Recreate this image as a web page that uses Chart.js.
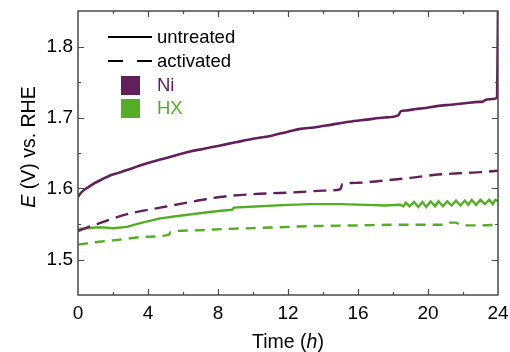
<!DOCTYPE html>
<html>
<head>
<meta charset="utf-8">
<script src="https://cdn.jsdelivr.net/npm/chart.js@4"></script>
<style>
html,body{margin:0;padding:0;background:#fff;}
#wrap{width:510px;height:352px;position:relative;}
</style>
</head>
<body>
<div id="wrap"><canvas id="c" width="510" height="352"></canvas></div>
<script>
// ---- data ----
const xTicks = [0, 4, 8, 12, 16, 20, 24];
const yTicks = [1.5, 1.6, 1.7, 1.8];

const niUntreatedT = [0, 0.1, 0.3, 0.6, 0.9, 1.3, 1.8, 2.3, 2.8, 3.5, 4.0, 4.7, 5.5, 6.4, 7.2, 8.0, 9.0, 10.0, 11.0, 12.0, 12.7, 13.5, 14.5, 15.5, 16.5, 17.5, 18.3, 18.45, 18.8, 19.3, 19.7, 20.5, 21.3, 22.1, 22.9, 23.1, 23.3, 23.7, 23.95, 24.0];
const niUntreatedE = [1.588, 1.592, 1.597, 1.602, 1.607, 1.612, 1.618, 1.622, 1.626, 1.632, 1.636, 1.641, 1.646, 1.652, 1.656, 1.660, 1.665, 1.670, 1.674, 1.680, 1.684, 1.686, 1.690, 1.694, 1.697, 1.700, 1.703, 1.709, 1.710, 1.712, 1.713, 1.716, 1.718, 1.720, 1.722, 1.722, 1.725, 1.726, 1.728, 1.86];

const niActivatedT = [0, 0.5, 1.0, 1.8, 3.0, 4.7, 6.0, 8.1, 10.0, 12.7, 14.0, 15.0, 15.1, 16.0, 17.4, 19.0, 20.3, 22.2, 23.0, 24.0];
const niActivatedE = [1.540, 1.545, 1.549, 1.556, 1.565, 1.573, 1.579, 1.588, 1.592, 1.595, 1.597, 1.599, 1.606, 1.608, 1.611, 1.615, 1.619, 1.622, 1.623, 1.625];

const hxUntreatedT = [0, 0.5, 1.0, 1.5, 2.0, 2.8, 3.5, 4.7, 5.6, 6.6, 7.9, 8.8, 8.9, 10.4, 12.0, 13.3, 15.0, 16.5, 17.5, 18.4,
  18.6, 18.73, 18.95, 19.2, 19.45, 19.68, 19.9, 20.15, 20.4, 20.6, 20.85, 21.1, 21.35, 21.6, 21.85, 22.1, 22.3, 22.5, 22.75, 23.0, 23.25, 23.5, 23.7, 23.85, 24.0];
const hxUntreatedE = [1.543, 1.544, 1.545, 1.545, 1.544, 1.546, 1.551, 1.558, 1.561, 1.564, 1.568, 1.570, 1.573, 1.575, 1.577, 1.578, 1.578, 1.577, 1.576, 1.577,
  1.575, 1.580, 1.575, 1.581, 1.574, 1.581, 1.574, 1.582, 1.575, 1.582, 1.575, 1.582, 1.576, 1.583, 1.576, 1.583, 1.577, 1.584, 1.577, 1.584, 1.578, 1.584, 1.578, 1.584, 1.582];

const hxActivatedT = [0, 1.2, 2.4, 3.8, 5.2, 5.3, 6.5, 8.5, 11.0, 13.3, 16.0, 18.4, 21.0, 21.3, 21.6, 21.9, 23.0, 24.0];
const hxActivatedE = [1.521, 1.525, 1.528, 1.532, 1.535, 1.539, 1.541, 1.543, 1.545, 1.547, 1.548, 1.549, 1.549, 1.552, 1.552, 1.548, 1.548, 1.549];

const seriesNames = ['Ni untreated', 'Ni activated', 'HX untreated', 'HX activated'];
const legendLines = ['untreated', 'activated'];
const legendMaterials = ['Ni', 'HX'];

const PURPLE = '#62205b';
const GREEN = '#54ae25';
const AXIS = '#4a4a4a';
const FONT = '"Liberation Sans", Arial, sans-serif';

function pts(t, e) { return t.map((x, i) => ({ x: x, y: e[i] })); }

const decorPlugin = {
  id: 'decor',
  afterDraw(chart) {
    const ctx = chart.ctx;
    const a = chart.chartArea;
    const xs = chart.scales.x, ys = chart.scales.y;
    ctx.save();
    // frame
    ctx.strokeStyle = AXIS;
    ctx.lineWidth = 1.5;
    ctx.strokeRect(a.left, a.top, a.right - a.left, a.bottom - a.top);
    // x ticks (inward, bottom & top)
    ctx.lineWidth = 1.2;
    for (let v = 2; v < 24; v += 2) {
      const px = Math.round(xs.getPixelForValue(v)) + 0.5;
      const len = (v % 4 === 0) ? 6 : 3;
      ctx.beginPath();
      ctx.moveTo(px, a.bottom); ctx.lineTo(px, a.bottom - len);
      ctx.moveTo(px, a.top); ctx.lineTo(px, a.top + len);
      ctx.stroke();
    }
    for (let k = 1; k < 8; k++) {
      const v = 1.45 + k * 0.05;
      const py = Math.round(ys.getPixelForValue(v)) + 0.5;
      const len = (k % 2 === 1) ? 6 : 3;
      ctx.beginPath();
      ctx.moveTo(a.left, py); ctx.lineTo(a.left + len, py);
      ctx.moveTo(a.right, py); ctx.lineTo(a.right - len, py);
      ctx.stroke();
    }
    // x title
    ctx.fillStyle = '#000';
    ctx.textBaseline = 'alphabetic';
    const fN = '19.5px ' + FONT, fI = 'italic 19.5px ' + FONT;
    const parts = [['Time (', fN], ['h', fI], [')', fN]];
    let w = 0;
    parts.forEach(p => { ctx.font = p[1]; w += ctx.measureText(p[0]).width; });
    let x = (a.left + a.right) / 2 - w / 2;
    parts.forEach(p => { ctx.font = p[1]; ctx.fillText(p[0], x, 348); x += ctx.measureText(p[0]).width; });
    // y title
    const yparts = [['E', fI], [' (V) vs. RHE', fN]];
    w = 0;
    yparts.forEach(p => { ctx.font = p[1]; w += ctx.measureText(p[0]).width; });
    ctx.save();
    ctx.translate(35, 147);
    ctx.rotate(-Math.PI / 2);
    x = -w / 2;
    yparts.forEach(p => { ctx.font = p[1]; ctx.fillText(p[0], x, 0); x += ctx.measureText(p[0]).width; });
    ctx.restore();
    // legend
    ctx.font = '18.5px ' + FONT;
    ctx.textBaseline = 'middle';
    ctx.strokeStyle = '#000';
    ctx.lineWidth = 2.2;
    ctx.beginPath(); ctx.moveTo(108, 37); ctx.lineTo(152, 37); ctx.stroke();
    ctx.setLineDash([15, 14]);
    ctx.beginPath(); ctx.moveTo(108, 61); ctx.lineTo(152, 61); ctx.stroke();
    ctx.setLineDash([]);
    ctx.fillStyle = '#000';
    ctx.fillText(legendLines[0], 157, 38);
    ctx.fillText(legendLines[1], 157, 62);
    ctx.fillStyle = PURPLE;
    ctx.fillRect(121, 76, 19, 19);
    ctx.fillText(legendMaterials[0], 157, 86);
    ctx.fillStyle = GREEN;
    ctx.fillRect(121, 99, 19, 19);
    ctx.fillText(legendMaterials[1], 157, 109);
    ctx.restore();
  }
};

new Chart(document.getElementById('c'), {
  type: 'scatter',
  data: {
    datasets: [
      { label: seriesNames[0], data: pts(niUntreatedT, niUntreatedE), borderColor: PURPLE, borderWidth: 2.6, showLine: true, pointRadius: 0, cubicInterpolationMode: 'monotone' },
      { label: seriesNames[1], data: pts(niActivatedT, niActivatedE), borderColor: PURPLE, borderWidth: 2.4, borderDash: [13, 7], showLine: true, pointRadius: 0, cubicInterpolationMode: 'monotone' },
      { label: seriesNames[2], data: pts(hxUntreatedT, hxUntreatedE), borderColor: GREEN, borderWidth: 2.4, showLine: true, pointRadius: 0, tension: 0 },
      { label: seriesNames[3], data: pts(hxActivatedT, hxActivatedE), borderColor: GREEN, borderWidth: 2.4, borderDash: [10, 7], showLine: true, pointRadius: 0, cubicInterpolationMode: 'monotone' }
    ]
  },
  options: {
    responsive: false,
    animation: false,
    devicePixelRatio: 1,
    layout: { padding: { top: 11, right: 12, left: 0, bottom: 0 } },
    plugins: { legend: { display: false }, tooltip: { enabled: false } },
    scales: {
      x: {
        type: 'linear', min: 0, max: 24,
        afterBuildTicks: s => { s.ticks = xTicks.map(v => ({ value: v })); },
        afterFit: s => { s.height = 57; s.paddingLeft = 0; s.paddingRight = 0; },
        grid: { display: false, drawTicks: false },
        border: { display: false },
        ticks: { color: '#000', font: { family: FONT, size: 19 }, padding: 7, maxRotation: 0 }
      },
      y: {
        type: 'linear', min: 1.45, max: 1.85,
        afterBuildTicks: s => { s.ticks = yTicks.map(v => ({ value: v })); },
        afterFit: s => { s.width = 78; s.paddingTop = 0; s.paddingBottom = 0; },
        grid: { display: false, drawTicks: false },
        border: { display: false },
        ticks: { color: '#000', font: { family: FONT, size: 19 }, padding: 5, callback: v => v.toFixed(1) }
      }
    }
  },
  plugins: [decorPlugin]
});
</script>
</body>
</html>
